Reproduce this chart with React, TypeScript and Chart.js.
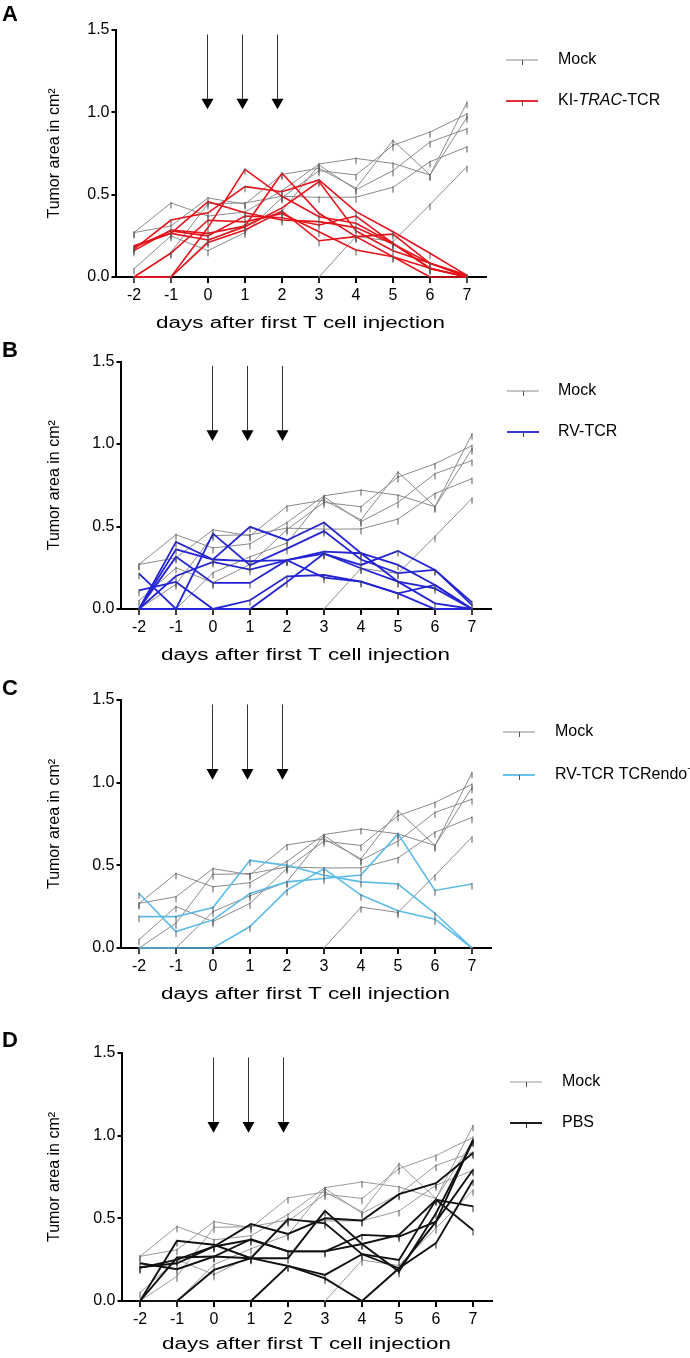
import React, { useEffect, useRef } from 'react';
import { Chart, registerables } from 'chart.js';
Chart.register(...registerables);

const FONT = "Arial, 'Liberation Sans', Helvetica, sans-serif";

// ---------- data ----------
const days = [-2, -1, 0, 1, 2, 3, 4, 5, 6, 7];
const yTickValues = [0, 0.5, 1.0, 1.5];
const arrowDays = [-0.02, 0.92, 1.86];
const xTitle = 'days after first T cell injection';
const yTitle = 'Tumor area in cm²';
const mockLabel = 'Mock';

// Mock group (same animals shown in every panel)
const mock1 = [0.27, 0.45, 0.37, 0.395, 0.524, 0.686, 0.72, 0.69, 0.62, 0.97];
const mock2 = [0.27, 0.31, 0.48, 0.443, 0.623, 0.66, 0.54, 0.83, 0.62, 1.06];
const mock3 = [0.05, 0.25, 0.16, 0.27, 0.482, 0.646, 0.62, 0.8, 0.88, 0.99];
const mock4 = [0, 0.15, 0.445, 0.45, 0.49, 0.484, 0.485, 0.545, 0.7, 0.79];
const mock5 = [0, 0, 0.22, 0.316, 0.4, 0.68, 0.53, 0.646, 0.82, 0.9];
const mock6 = [null, null, null, null, null, 0, 0.247, 0.215, 0.44, 0.67];

// A: KI-TRAC-TCR
const kiTrac1 = [0, 0, 0.3, 0.654, 0.49, 0.366, 0.326, 0.204, 0.053, 0];
const kiTrac2 = [0.185, 0.265, 0.457, 0.39, 0.346, 0.336, 0.3, 0.2, 0.083, 0.01];
const kiTrac3 = [0.17, 0.346, 0.39, 0.549, 0.518, 0.589, 0.397, 0.275, 0.144, 0.01];
const kiTrac4 = [0.16, 0.285, 0.265, 0.31, 0.63, 0.387, 0.245, 0.123, 0.053, 0];
const kiTrac5 = [0.19, 0.265, 0.225, 0.305, 0.42, 0.58, 0.28, 0.16, 0.083, 0.01];
const kiTrac6 = [0, 0.145, 0.345, 0.335, 0.386, 0.275, 0.164, 0.123, 0, 0];
const kiTrac7 = [0, 0, 0.21, 0.285, 0.4, 0.22, 0.245, 0.26, 0.083, 0];
const kiTrac8 = [0.18, 0.28, 0.25, 0.37, 0.36, 0.316, 0.37, 0.204, 0.05, 0];

// B: RV-TCR
const rv1 = [0.215, 0, 0.457, 0.265, 0.366, 0.472, 0.3, 0.217, 0.237, 0.024];
const rv2 = [0, 0.407, 0.3, 0.498, 0.417, 0.524, 0.338, 0.267, 0.146, 0];
const rv3 = [0, 0.362, 0.3, 0.29, 0.296, 0.336, 0.267, 0.352, 0.237, 0.04];
const rv4 = [0, 0.316, 0.158, 0.158, 0.296, 0.348, 0.338, 0.166, 0.125, 0];
const rv5 = [0.113, 0.164, 0, 0, 0.164, 0.336, 0.247, 0.166, 0.034, 0];
const rv6 = [0, 0, 0, 0.053, 0.198, 0.206, 0.166, 0.095, 0.146, 0];
const rv7 = [0, 0.2, 0.285, 0.239, 0.296, 0.19, 0.166, 0.095, 0, 0];

// C: RV-TCR TCRendo-
const rvEndo1 = [0.33, 0.1, 0.17, 0.33, 0.4, 0.42, 0.441, 0.69, 0.348, 0.387];
const rvEndo2 = [0.19, 0.19, 0.245, 0.53, 0.5, 0.44, 0.4, 0.387, 0.21, 0];
const rvEndo3 = [0, 0, 0, 0.13, 0.35, 0.48, 0.32, 0.225, 0.174, 0];

// D: PBS
const pbs1 = [0.228, 0.192, 0.269, 0.259, 0.212, 0.137, 0, 0.198, 0.48, 0.976];
const pbs2 = [0, 0.364, 0.34, 0.259, 0.259, 0.545, 0.345, 0.178, 0.531, 0.966];
const pbs3 = [0.204, 0.228, 0.33, 0.465, 0.406, 0.5, 0.487, 0.646, 0.713, 0.895];
const pbs4 = [0, 0.263, 0.269, 0.374, 0.3, 0.3, 0.4, 0.39, 0.48, 0.794];
const pbs5 = [0, 0, 0.188, 0.259, 0.495, 0.47, 0.283, 0.248, 0.612, 0.43];
const pbs6 = [null, null, null, 0, 0.212, 0.158, 0.283, 0.198, 0.35, 0.73];
const pbs7 = [0.2, 0.25, 0.33, 0.37, 0.3, 0.3, 0.345, 0.4, 0.612, 0.572];

const mockSeries = [mock1, mock2, mock3, mock4, mock5, mock6];
const kiTracSeries = [kiTrac1, kiTrac2, kiTrac3, kiTrac4, kiTrac5, kiTrac6, kiTrac7, kiTrac8];
const rvSeries = [rv1, rv2, rv3, rv4, rv5, rv6, rv7];
const rvEndoSeries = [rvEndo1, rvEndo2, rvEndo3];
const pbsSeries = [pbs1, pbs2, pbs3, pbs4, pbs5, pbs6, pbs7];

const kiTracLabel: [string, string][] = [['KI-', 'n'], ['TRAC', 'i'], ['-TCR', 'n']];
const rvLabel: [string, string][] = [['RV-TCR', 'n']];
const rvEndoLabel: [string, string][] = [['RV-TCR TCRendo', 'n'], ['−', 'sup']];
const pbsLabel: [string, string][] = [['PBS', 'n']];

// ---------- layout ----------
type Panel = {
  letter: string;
  canvasTop: number;
  canvasHeight: number;
  area: { left: number; right: number; top: number; bottom: number };
  legend: { x0: number; x1: number; tx: number; y1: number; y2: number };
  series: (number | null)[][];
  label: [string, string][];
  color: string;
  width: number;
  tickColor: string;
  mockColor: string;
  xTitleOffset: number;
  letterDy: number;
};

const panels: Panel[] = [
  {
    letter: 'A', canvasTop: 0, canvasHeight: 335,
    area: { left: 115.5, right: 485.5, top: 30, bottom: 277 },
    legend: { x0: 506, x1: 538, tx: 558, y1: 60, y2: 101 },
    series: kiTracSeries, label: kiTracLabel, color: '#e5131b', width: 1.6, tickColor: '#555', mockColor: '#8a8a8a', xTitleOffset: 47, letterDy: 9,
  },
  {
    letter: 'B', canvasTop: 335, canvasHeight: 340,
    area: { left: 120.5, right: 490.5, top: 361.5, bottom: 609 },
    legend: { x0: 507, x1: 539, tx: 558, y1: 391, y2: 432 },
    series: rvSeries, label: rvLabel, color: '#2424d4', width: 1.8, tickColor: '#444', mockColor: '#8a8a8a', xTitleOffset: 47, letterDy: 5,
  },
  {
    letter: 'C', canvasTop: 675, canvasHeight: 350,
    area: { left: 120.5, right: 490.5, top: 700, bottom: 948 },
    legend: { x0: 503, x1: 535, tx: 555, y1: 732, y2: 775 },
    series: rvEndoSeries, label: rvEndoLabel, color: '#5bbbe8', width: 1.6, tickColor: '#555', mockColor: '#8a8a8a', xTitleOffset: 47, letterDy: 5,
  },
  {
    letter: 'D', canvasTop: 1025, canvasHeight: 333,
    area: { left: 121.5, right: 491.5, top: 1053, bottom: 1301 },
    legend: { x0: 510, x1: 542, tx: 562, y1: 1082, y2: 1123 },
    series: pbsSeries, label: pbsLabel, color: '#111111', width: 1.9, tickColor: '#222', mockColor: '#9a9a9a', xTitleOffset: 44, letterDy: 6,
  },
];

const TITLE_SIZE = 16;
const TITLE_LH = TITLE_SIZE * 1.2;
const Y_TITLE_CX = 55;
const X_TITLE_STRETCH = 1.4;

function makeTick(color: string) {
  const c = document.createElement('canvas');
  c.width = 3;
  c.height = 14;
  const g = c.getContext('2d')!;
  g.strokeStyle = color;
  g.lineWidth = 1;
  g.beginPath();
  g.moveTo(1.5, 6);
  g.lineTo(1.5, 12.5);
  g.stroke();
  return c;
}

function drawLabel(ctx: CanvasRenderingContext2D, parts: [string, string][], x: number, y: number) {
  let cx = x;
  for (const [text, style] of parts) {
    if (style === 'sup') {
      ctx.font = `11px ${FONT}`;
      ctx.fillText(text, cx, y - 6);
    } else {
      ctx.font = `${style === 'i' ? 'italic ' : ''}16px ${FONT}`;
      ctx.fillText(text, cx, y);
    }
    cx += ctx.measureText(text).width;
  }
}

function buildChart(canvas: HTMLCanvasElement, p: Panel) {
  const localTop = p.area.top - p.canvasTop;
  const localBottom = p.area.bottom - p.canvasTop;
  const hX = p.xTitleOffset + TITLE_LH / 2;
  const padBottom = Math.max(0, p.canvasHeight - localBottom - hX);
  const padLeft = Y_TITLE_CX - TITLE_LH / 2;
  const yWidth = p.area.left - padLeft;

  const mockTick = makeTick('#555');
  const groupTick = makeTick(p.tickColor);

  const mk = (vals: (number | null)[], color: string, width: number, tick: HTMLCanvasElement) => ({
    data: vals.map((v, i) => ({ x: days[i], y: v })),
    borderColor: color,
    backgroundColor: color,
    borderWidth: width,
    pointStyle: tick,
    pointRadius: 3,
    pointHoverRadius: 3,
    tension: 0,
    fill: false,
    clip: false,
    spanGaps: false,
  });

  const datasets = [
    ...p.series.map((s) => mk(s, p.color, p.width, groupTick)),
    ...mockSeries.map((s) => mk(s, p.mockColor, 1, mockTick)),
  ];

  const extras = {
    id: 'extras' + p.letter,
    afterDraw(chart: any) {
      const ctx: CanvasRenderingContext2D = chart.ctx;
      const xs = chart.scales.x;
      const ys = chart.scales.y;
      ctx.save();
      // x axis title (horizontally stretched, as in the source figure)
      ctx.fillStyle = '#000';
      ctx.font = `${TITLE_SIZE}px ${FONT}`;
      ctx.textAlign = 'center';
      ctx.textBaseline = 'middle';
      ctx.save();
      ctx.translate((chart.chartArea.left + chart.chartArea.right) / 2, localBottom + p.xTitleOffset);
      ctx.scale(X_TITLE_STRETCH, 1);
      ctx.fillText(xTitle, 0, 0);
      ctx.restore();
      // injection arrows
      for (const d of arrowDays) {
        const px = Math.round(xs.getPixelForValue(d)) + 0.5;
        const yTop = ys.getPixelForValue(1.473);
        const yBase = ys.getPixelForValue(1.083);
        const yTip = ys.getPixelForValue(1.018);
        ctx.strokeStyle = '#333';
        ctx.lineWidth = 1;
        ctx.beginPath();
        ctx.moveTo(px, yTop);
        ctx.lineTo(px, yBase);
        ctx.stroke();
        ctx.fillStyle = '#000';
        ctx.beginPath();
        ctx.moveTo(px - 6, yBase);
        ctx.lineTo(px + 6, yBase);
        ctx.lineTo(px, yTip);
        ctx.closePath();
        ctx.fill();
      }
      // panel letter
      ctx.fillStyle = '#000';
      ctx.font = `bold 22px ${FONT}`;
      ctx.textBaseline = 'alphabetic';
      ctx.textAlign = 'left';
      ctx.fillText(p.letter, 2, localTop - p.letterDy);
      // legend
      const L = p.legend;
      const rows: [number, string, number, string, [string, string][]][] = [
        [L.y1 - p.canvasTop, p.mockColor, 1, '#555', [[mockLabel, 'n']]],
        [L.y2 - p.canvasTop, p.color, Math.max(p.width, 1.8), p.tickColor, p.label],
      ];
      for (const [ly, col, w, tc, parts] of rows) {
        ctx.strokeStyle = col;
        ctx.lineWidth = w;
        ctx.beginPath();
        ctx.moveTo(L.x0, ly);
        ctx.lineTo(L.x1, ly);
        ctx.stroke();
        ctx.strokeStyle = tc;
        ctx.lineWidth = 1;
        const mx = Math.round((L.x0 + L.x1) / 2) + 0.5;
        ctx.beginPath();
        ctx.moveTo(mx, ly);
        ctx.lineTo(mx, ly + 5);
        ctx.stroke();
        ctx.fillStyle = '#000';
        ctx.textBaseline = 'middle';
        drawLabel(ctx, parts, L.tx, ly);
      }
      ctx.restore();
    },
  };

  const axisCommon = {
    border: { display: true, color: '#000', width: 2 },
  };

  return new Chart(canvas, {
    type: 'line',
    data: { datasets: datasets as any },
    plugins: [extras],
    options: {
      responsive: false,
      animation: false,
      events: [],
      layout: { padding: { top: localTop, bottom: padBottom, left: padLeft, right: 690 - p.area.right } },
      plugins: { legend: { display: false }, tooltip: { enabled: false } },
      scales: {
        x: {
          type: 'linear',
          min: -2.5,
          max: 7.5,
          ...axisCommon,
          afterBuildTicks: (s: any) => { s.ticks = days.map((v) => ({ value: v })); },
          afterFit: (s: any) => { s.height = hX; },
          grid: { display: true, drawOnChartArea: false, drawTicks: true, tickLength: 6, color: '#000', lineWidth: 2 },
          ticks: { color: '#000', font: { family: FONT, size: 16 }, padding: 3, autoSkip: false, maxRotation: 0, callback: (v: any) => String(v) },
          title: { display: false },
        },
        y: {
          type: 'linear',
          min: 0,
          max: 1.5,
          ...axisCommon,
          afterBuildTicks: (s: any) => { s.ticks = yTickValues.map((v) => ({ value: v })); },
          afterFit: (s: any) => { s.width = yWidth; },
          grid: { display: true, drawOnChartArea: false, drawTicks: true, tickLength: 4, color: '#000', lineWidth: 2 },
          ticks: { color: '#000', font: { family: FONT, size: 16 }, padding: 2, callback: (v: any) => Number(v).toFixed(1) },
          title: { display: true, text: yTitle, color: '#000', font: { family: FONT, size: TITLE_SIZE }, padding: 0 },
        },
      },
    } as any,
  });
}

export default function App() {
  const refs = useRef<(HTMLCanvasElement | null)[]>([]);
  useEffect(() => {
    const charts = panels.map((p, i) => buildChart(refs.current[i]!, p));
    return () => charts.forEach((c) => c.destroy());
  }, []);
  return (
    <div style={{ position: 'absolute', left: 0, top: 0, width: 690, height: 1358, background: '#fff' }}>
      {panels.map((p, i) => (
        <canvas
          key={p.letter}
          ref={(el) => { refs.current[i] = el; }}
          width={690}
          height={p.canvasHeight}
          style={{ position: 'absolute', left: 0, top: p.canvasTop, width: 690, height: p.canvasHeight }}
        />
      ))}
    </div>
  );
}
